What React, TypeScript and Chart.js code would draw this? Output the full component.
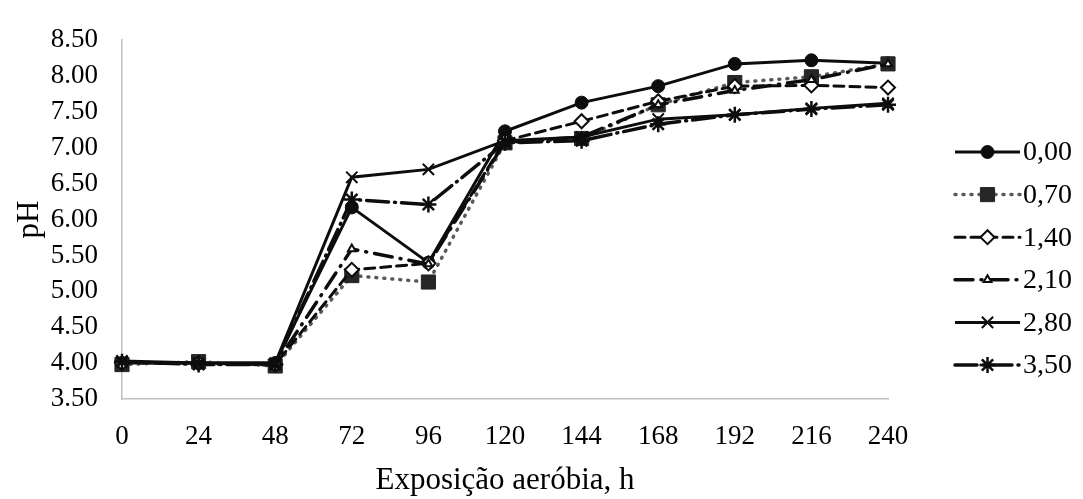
import React, { useEffect, useRef } from 'react';
import { Chart, registerables } from 'chart.js';
import { drawPoint } from 'chart.js/helpers';

Chart.register(...registerables);

const hours = ['0', '24', '48', '72', '96', '120', '144', '168', '192', '216', '240'];
const seriesNames = ['0,00', '0,70', '1,40', '2,10', '2,80', '3,50'];

const s000 = [4.0, 4.0, 4.0, 6.17, 5.4, 7.23, 7.63, 7.86, 8.17, 8.22, 8.18];
const s070 = [3.98, 4.02, 3.96, 5.22, 5.13, 7.07, 7.13, 7.6, 7.91, 7.99, 8.17];
const s140 = [4.0, 4.0, 3.98, 5.3, 5.39, 7.1, 7.37, 7.65, 7.86, 7.87, 7.84];
const s210 = [4.02, 3.99, 3.98, 5.59, 5.38, 7.08, 7.15, 7.6, 7.8, 7.95, 8.17];
const s280 = [4.03, 4.0, 4.0, 6.59, 6.7, 7.1, 7.15, 7.4, 7.46, 7.55, 7.62];
const s350 = [4.02, 3.98, 3.98, 6.28, 6.21, 7.07, 7.1, 7.33, 7.46, 7.54, 7.6];

const seriesValues = [s000, s070, s140, s210, s280, s350];

const seriesStyles = [
  { color: '#0d0d0d', dash: [], point: 'circle', radius: 6.5, fill: '#0d0d0d', pBorder: '#0d0d0d', pWidth: 1, width: 3 },
  { color: '#595959', dash: [1, 7], point: 'rect', radius: 10, fill: '#262626', pBorder: '#262626', pWidth: 1, width: 3.5 },
  { color: '#0d0d0d', dash: [10, 6], point: 'rectRot', radius: 7, fill: '#ffffff', pBorder: '#0d0d0d', pWidth: 2, width: 3 },
  { color: '#0d0d0d', dash: [18, 8, 1, 8], point: 'triangle', radius: 4.5, fill: '#ffffff', pBorder: '#0d0d0d', pWidth: 2, width: 3.5 },
  { color: '#0d0d0d', dash: [], point: 'crossRot', radius: 8, fill: '#0d0d0d', pBorder: '#0d0d0d', pWidth: 2, width: 3 },
  { color: '#0d0d0d', dash: [22, 6, 1, 6], point: 'star', radius: 8, fill: '#0d0d0d', pBorder: '#0d0d0d', pWidth: 2.5, width: 3.5 },
];

const FONT = '"Liberation Serif", "Times New Roman", serif';

const legendPlugin = {
  id: 'customLegend',
  afterDraw(chart: any) {
    const ctx = chart.ctx;
    const x0 = 955;
    const x1 = 1020;
    const xm = (x0 + x1) / 2;
    const yStart = 152;
    const gap = 42.6;
    ctx.save();
    seriesNames.forEach((name, i) => {
      const st = seriesStyles[i];
      const y = yStart + i * gap;
      ctx.beginPath();
      ctx.setLineDash(st.dash);
      ctx.lineCap = st.dash.length ? 'round' : 'butt';
      ctx.lineWidth = st.width;
      ctx.strokeStyle = st.color;
      ctx.moveTo(x0, y);
      ctx.lineTo(x1, y);
      ctx.stroke();
      ctx.setLineDash([]);
      ctx.lineCap = 'butt';
      ctx.fillStyle = st.fill;
      ctx.strokeStyle = st.pBorder;
      ctx.lineWidth = st.pWidth;
      drawPoint(ctx, { pointStyle: st.point, radius: st.radius, rotation: 0, borderWidth: st.pWidth }, xm, y);
      ctx.fillStyle = '#000';
      ctx.font = `28px ${FONT}`;
      ctx.textAlign = 'left';
      ctx.textBaseline = 'middle';
      ctx.fillText(name, x1 + 3, y + 1);
    });
    ctx.restore();
  },
};

export default function App() {
  const ref = useRef<HTMLCanvasElement | null>(null);

  useEffect(() => {
    if (!ref.current) return;
    const datasets = seriesValues.map((vals, i) => {
      const st = seriesStyles[i];
      return {
        label: seriesNames[i],
        data: vals,
        borderColor: st.color,
        backgroundColor: st.fill,
        borderWidth: st.width,
        borderDash: st.dash,
        borderCapStyle: st.dash.length ? 'round' : 'butt',
        tension: 0,
        pointStyle: st.point,
        pointRadius: st.radius,
        pointBackgroundColor: st.fill,
        pointBorderColor: st.pBorder,
        pointBorderWidth: st.pWidth,
        order: seriesNames.length - i,
      };
    });
    const chart = new Chart(ref.current, {
      type: 'line',
      data: { labels: hours, datasets: datasets as any },
      plugins: [legendPlugin],
      options: {
        animation: false,
        responsive: true,
        maintainAspectRatio: false,
        layout: { padding: { top: 25, right: 195, bottom: 0, left: 0 } },
        plugins: { legend: { display: false }, tooltip: { enabled: false } },
        scales: {
          x: {
            type: 'category',
            offset: false,
            grid: { display: false, drawTicks: false },
            border: { display: true, color: '#bfbfbf', width: 1.5 },
            ticks: {
              color: '#000',
              font: { family: FONT, size: 27 },
              padding: 22,
              autoSkip: false,
              maxRotation: 0,
              minRotation: 0,
            },
            title: {
              display: true,
              text: 'Exposição aeróbia, h',
              color: '#000',
              font: { family: FONT, size: 31 },
              padding: { top: 0, bottom: 0 },
            },
            afterFit(scale: any) {
              scale.height = 100;
            },
          },
          y: {
            min: 3.5,
            max: 8.5,
            grid: { display: false, drawTicks: false },
            border: { display: true, color: '#bfbfbf', width: 1.5 },
            ticks: {
              stepSize: 0.5,
              color: '#000',
              font: { family: FONT, size: 27 },
              padding: 24,
              callback: (v: any) => Number(v).toFixed(2),
            },
            title: {
              display: true,
              text: 'pH',
              color: '#000',
              font: { family: FONT, size: 31 },
              padding: { top: 11, bottom: 0 },
            },
            afterFit(scale: any) {
              scale.width = 122;
            },
          },
        },
      },
    });
    return () => chart.destroy();
  }, []);

  return (
    <div style={{ position: 'fixed', left: 0, top: 0, width: 1083, height: 499, background: '#fff' }}>
      <canvas ref={ref} />
    </div>
  );
}
